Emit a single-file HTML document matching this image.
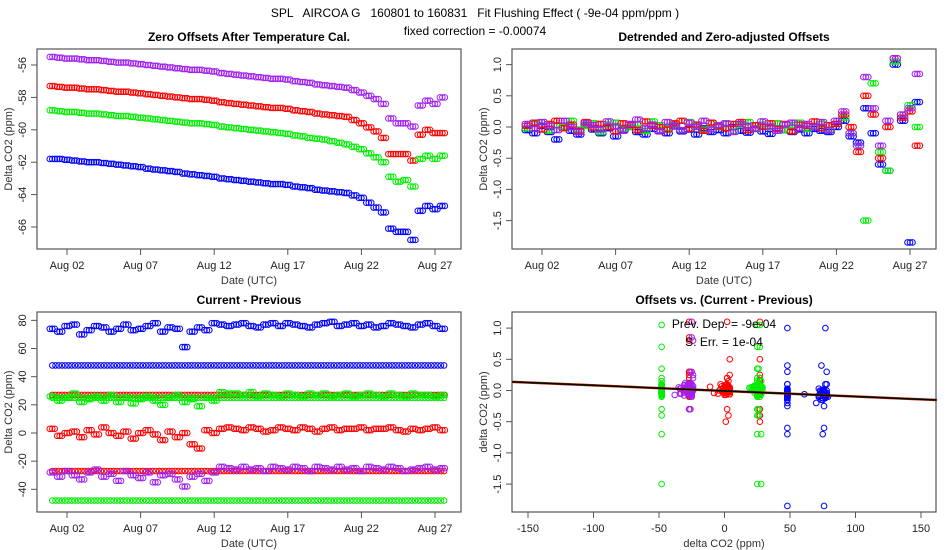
<!DOCTYPE html>
<html><head><meta charset="utf-8"><style>
body{margin:0;background:#fff}
svg{display:block;font-family:"Liberation Sans",Arial,sans-serif}
</style></head><body>
<svg id="c" width="950" height="550" xmlns="http://www.w3.org/2000/svg">
<text x="475" y="17" text-anchor="middle" font-size="12" xml:space="preserve">SPL   AIRCOA G   160801 to 160831   Fit Flushing Effect ( -9e-04 ppm/ppm )</text>
<text x="475" y="35" text-anchor="middle" font-size="12">fixed correction = -0.00074</text>
</svg>
<script>
const times=[1,1.5,2,2.5,3,3.5,4,4.5,5,5.5,6,6.5,7,7.5,8,8.5,9,9.5,10,10.5,11,11.5,12,12.5,13,13.5,14,14.5,15,15.5,16,16.5,17,17.5,18,18.5,19,19.5,20,20.5,21,21.5,22,22.5,23,23.5,24,24.5,25,25.5,26,26.5,27,27.5];
const offPurple=[-55.5,-55.55,-55.6,-55.6,-55.65,-55.7,-55.7,-55.75,-55.8,-55.85,-55.85,-55.9,-55.95,-56.0,-56.05,-56.1,-56.15,-56.2,-56.25,-56.3,-56.3,-56.35,-56.4,-56.5,-56.55,-56.6,-56.65,-56.7,-56.75,-56.8,-56.85,-56.85,-56.9,-57.0,-57.05,-57.1,-57.2,-57.25,-57.3,-57.35,-57.4,-57.55,-57.7,-57.9,-58.1,-58.4,-59.3,-59.6,-59.6,-59.8,-58.5,-58.2,-58.4,-58.0];
const offRed=[-57.3,-57.35,-57.4,-57.4,-57.45,-57.5,-57.5,-57.55,-57.6,-57.65,-57.65,-57.7,-57.75,-57.8,-57.85,-57.9,-57.95,-58.0,-58.05,-58.1,-58.1,-58.15,-58.2,-58.3,-58.35,-58.4,-58.45,-58.5,-58.55,-58.6,-58.65,-58.65,-58.7,-58.8,-58.85,-58.9,-59.0,-59.05,-59.1,-59.15,-59.2,-59.4,-59.6,-59.85,-60.1,-60.5,-61.5,-61.5,-61.5,-61.9,-60.3,-60.0,-60.2,-60.2];
const offGreen=[-58.8,-58.85,-58.9,-58.9,-58.95,-59.0,-59.0,-59.05,-59.1,-59.15,-59.15,-59.2,-59.25,-59.3,-59.35,-59.4,-59.45,-59.5,-59.55,-59.6,-59.6,-59.65,-59.7,-59.8,-59.85,-59.9,-59.95,-60.0,-60.05,-60.1,-60.15,-60.2,-60.25,-60.35,-60.4,-60.5,-60.55,-60.6,-60.7,-60.8,-60.9,-61.05,-61.2,-61.45,-61.7,-62.0,-62.9,-63.2,-63.1,-63.5,-61.8,-61.6,-61.8,-61.6];
const offBlue=[-61.8,-61.8,-61.85,-61.9,-61.95,-62.0,-62.0,-62.05,-62.1,-62.15,-62.2,-62.25,-62.3,-62.4,-62.45,-62.5,-62.55,-62.6,-62.7,-62.75,-62.8,-62.85,-62.9,-63.0,-63.05,-63.1,-63.15,-63.2,-63.25,-63.3,-63.35,-63.35,-63.4,-63.5,-63.55,-63.6,-63.7,-63.75,-63.8,-63.85,-63.9,-64.05,-64.2,-64.5,-64.8,-65.1,-66.1,-66.3,-66.3,-66.8,-65.0,-64.7,-64.9,-64.7];
const detPurple=[0.05,-0.03,0.08,0.02,-0.05,0.1,0.0,-0.08,0.06,0.03,-0.04,0.09,0.01,-0.06,0.05,0.12,-0.02,0.04,-0.07,0.08,0.02,-0.05,0.07,0.0,0.1,-0.04,0.03,0.06,-0.08,0.05,0.02,-0.03,0.09,0.01,-0.06,0.04,0.07,-0.02,0.05,0.0,0.08,-0.05,0.1,0.25,-0.1,-0.3,0.8,0.3,-0.3,0.1,1.1,0.2,0.3,0.85];
const detRed=[0.02,0.07,-0.04,0.05,0.1,-0.02,0.04,-0.06,0.08,-0.01,0.05,0.0,-0.07,0.06,0.03,-0.05,0.09,0.02,0.0,-0.04,0.06,0.1,-0.03,0.04,-0.06,0.07,0.01,-0.02,0.05,0.08,-0.05,0.03,0.0,0.06,-0.03,0.05,-0.07,0.04,0.02,0.09,-0.02,0.03,0.05,0.2,0.0,-0.4,0.5,0.2,-0.5,0.0,1.1,0.15,0.25,-0.3];
const detGreen=[-0.02,0.05,0.08,-0.06,0.03,0.0,0.1,-0.04,0.02,0.06,-0.08,0.04,0.07,-0.03,0.0,0.05,-0.06,0.09,0.03,-0.02,0.04,-0.05,0.08,0.02,-0.04,0.06,0.0,0.05,-0.07,0.03,0.08,-0.02,0.04,0.0,0.06,-0.05,0.03,0.07,-0.03,0.02,0.05,-0.04,0.05,0.15,-0.1,-0.3,-1.5,0.7,-0.4,-0.7,1.05,0.2,0.35,0.0];
const detBlue=[-0.05,-0.1,0.02,-0.08,-0.2,0.0,-0.06,-0.12,0.03,-0.04,-0.1,-0.02,-0.15,-0.05,0.0,-0.08,-0.12,-0.03,-0.06,-0.1,0.01,-0.07,-0.04,-0.12,-0.02,-0.08,-0.05,-0.1,0.0,-0.06,-0.09,-0.03,-0.07,-0.11,-0.02,-0.05,-0.08,-0.04,-0.1,-0.03,-0.06,-0.08,0.0,0.1,-0.15,-0.25,0.3,-0.1,-0.6,-0.7,1.0,0.1,-1.85,0.4];
const cpBlue=[74,72,76,77,70,73,76,75,72,74,77,73,74,76,78,72,75,74,61,72,75,73,78,77,76,77,78,76,75,77,78,76,78,77,76,75,77,78,79,76,77,78,76,77,75,76,78,77,76,75,77,78,76,74];
const cpGreen=[26,23,25,28,22,24,26,23,27,22,25,21,24,26,23,20,25,27,22,24,19,25,23,29,28,28,27,29,26,28,27,26,28,27,26,28,27,28,26,27,28,26,27,28,27,26,28,27,26,28,27,27,26,27];
const cpRed=[3,-2,0,1,-3,2,-1,4,0,-2,1,-4,0,2,-1,-5,1,-3,0,-8,-11,2,0,3,4,3,2,4,3,1,2,4,3,2,4,3,1,3,4,2,3,3,4,2,3,3,4,2,1,3,2,3,4,2];
const cpPurple=[-28,-31,-27,-30,-33,-28,-26,-31,-29,-34,-27,-30,-32,-28,-35,-30,-29,-33,-38,-31,-29,-34,-28,-24,-25,-26,-24,-26,-25,-27,-24,-25,-26,-24,-25,-27,-24,-25,-26,-24,-26,-25,-27,-24,-25,-26,-24,-25,-27,-26,-25,-24,-26,-25];
const flatLevels=[48,27,25,-27,-48];
const flatColors=["#0000ff","#ff0000","#00ee00","#ff0000","#00ee00"];
const dateTicks=[2,7,12,17,22,27];
const dateLabels=["Aug 02","Aug 07","Aug 12","Aug 17","Aug 22","Aug 27"];
const offTicks=[-56,-58,-60,-62,-64,-66];
const detTicks=[1.0,0.5,0.0,-0.5,-1.0,-1.5];
const cpTicks=[80,60,40,20,0,-20,-40];
const dcoTicks=[-150,-100,-50,0,50,100,150];
const fitSlope=-0.0009, fitIntercept=-0.007;

const NS="http://www.w3.org/2000/svg";
const svg=document.getElementById('c');
function el(tag,attrs,parent){const e=document.createElementNS(NS,tag);for(const k in attrs)e.setAttribute(k,attrs[k]);(parent||svg).appendChild(e);return e;}
const P={blue:"#0000ff",red:"#ff0000",green:"#00ee00",purple:"#a020f0"};
const binOffsets=[-0.17,0,0.17];

function panel(name,box,xs,ys,xticks,xlabels,yticks,ylabels,title,xtitle,ytitle){
  const g=el('g',{});
  
  
  const r=el('rect',{x:box.x0,y:box.y0,width:box.x1-box.x0,height:box.y1-box.y0,fill:'none',stroke:'#555','stroke-width':1.2},g);
  
  
  const t=el('text',{x:(box.x0+box.x1)/2,y:box.y0-8,'text-anchor':'middle','font-size':12,'font-weight':'bold'},g);t.textContent=title;
  
  
  const xt=el('text',{x:(box.x0+box.x1)/2,y:box.y1+35,'text-anchor':'middle','font-size':11,fill:'#333'},g);xt.textContent=xtitle;
  
  
  const cy=(box.y0+box.y1)/2, ytx=box.x0-25;
  const yt=el('text',{x:ytx,y:cy,'text-anchor':'middle','font-size':11,fill:'#333',transform:`rotate(-90 ${ytx} ${cy})`},g);yt.textContent=ytitle;
  
  
  xticks.forEach((v,i)=>{const X=xs(v);
    el('line',{x1:X,x2:X,y1:box.y1,y2:box.y1+6,stroke:'#555'},g);
    const l=el('text',{x:X,y:box.y1+20,'text-anchor':'middle','font-size':11,fill:'#222'},g);l.textContent=xlabels[i];
    
    });
  yticks.forEach((v,i)=>{const Y=ys(v);
    el('line',{x1:box.x0-6,x2:box.x0,y1:Y,y2:Y,stroke:'#555'},g);
    const lx=box.x0-11;
    const l=el('text',{x:lx,y:Y,'text-anchor':'middle','font-size':11,fill:'#222',transform:`rotate(-90 ${lx} ${Y})`},g);l.textContent=ylabels[i];
    
    });
  return g;
}
function pt(g,x,y,col){const c=el('circle',{cx:x,cy:y,r:2.8,fill:'none',stroke:col,'stroke-width':1},g);
  
  }
function timeSeries(g,arr,col,xf,yf){arr.forEach((v,i)=>binOffsets.forEach(o=>pt(g,xf(times[i]+o),yf(v),col)));}

const dayX=d=>67+(d-2)*14.72;
const B1={x0:37,x1:461,y0:49,y1:249},B2={x0:512,x1:936,y0:49,y1:249},B3={x0:37,x1:461,y0:312,y1:512},B4={x0:512,x1:936,y0:312,y1:512};
const yOff=v=>65+(-56-v)*16.2;
const yDet=v=>127-v*62.4;
const yCp=v=>433-v*1.408;
const xDco=v=>724.5+v*1.31;
const yDet4=v=>390.5-v*62.4;
const fmt=v=>v.toFixed(1);
const dayX2=d=>dayX(d)+475;

const g1=panel('offsets-panel',B1,dayX,yOff,dateTicks,dateLabels,offTicks,offTicks.map(String),'Zero Offsets After Temperature Cal.','Date (UTC)','Delta CO2 (ppm)');
[[offPurple,P.purple],[offRed,P.red],[offGreen,P.green],[offBlue,P.blue]].forEach(([a,c])=>timeSeries(g1,a,c,dayX,yOff));

const g2=panel('detrended-panel',B2,dayX2,yDet,dateTicks,dateLabels,detTicks,detTicks.map(fmt),'Detrended and Zero-adjusted Offsets','Date (UTC)','Delta CO2 (ppm)');
[[detBlue,P.blue],[detGreen,P.green],[detRed,P.red],[detPurple,P.purple]].forEach(([a,c])=>timeSeries(g2,a,c,dayX2,yDet));

const g3=panel('current-previous-panel',B3,dayX,yCp,dateTicks,dateLabels,cpTicks,cpTicks.map(String),'Current - Previous','Date (UTC)','Delta CO2 (ppm)');
flatLevels.forEach((lv,k)=>{for(let d=1;d<=27.8;d+=0.22)pt(g3,dayX(d),yCp(lv),flatColors[k]);});
[[cpBlue,P.blue],[cpGreen,P.green],[cpRed,P.red],[cpPurple,P.purple]].forEach(([a,c])=>timeSeries(g3,a,c,dayX,yCp));

const g4=panel('offsets-vs-change-panel',B4,xDco,yDet4,dcoTicks,dcoTicks.map(String),detTicks,detTicks.map(fmt),'Offsets vs. (Current - Previous)','delta CO2 (ppm)','delta CO2 (ppm)');
const flatDet=[detBlue,detRed,detGreen,detPurple,detGreen];
flatLevels.forEach((lv,k)=>flatDet[k].forEach(v=>pt(g4,xDco(lv),yDet4(v),flatColors[k])));
[[cpBlue,detBlue,P.blue],[cpGreen,detGreen,P.green],[cpRed,detRed,P.red],[cpPurple,detPurple,P.purple]].forEach(([a,b,c])=>a.forEach((v,i)=>pt(g4,xDco(v),yDet4(b[i]),c)));
const xa=-162,xb=162;
[['#ff0000',2.5,'fit-line-red'],['#006400',1.8,'fit-line-green'],['#000',1.3,'fit-line']].forEach(([c,w,n])=>{
  const l=el('line',{x1:xDco(xa),x2:xDco(xb),y1:yDet4(fitIntercept+fitSlope*xa),y2:yDet4(fitIntercept+fitSlope*xb),stroke:c,'stroke-width':w},g4);
  
  });
const a1=el('text',{x:724,y:328,'text-anchor':'middle','font-size':12},g4);a1.textContent='Prev. Dep. =  -9e-04';a1.setAttribute('xml:space','preserve');


const a2=el('text',{x:724,y:346,'text-anchor':'middle','font-size':12},g4);a2.textContent='S. Err. =  1e-04';


</script>
</body></html>
